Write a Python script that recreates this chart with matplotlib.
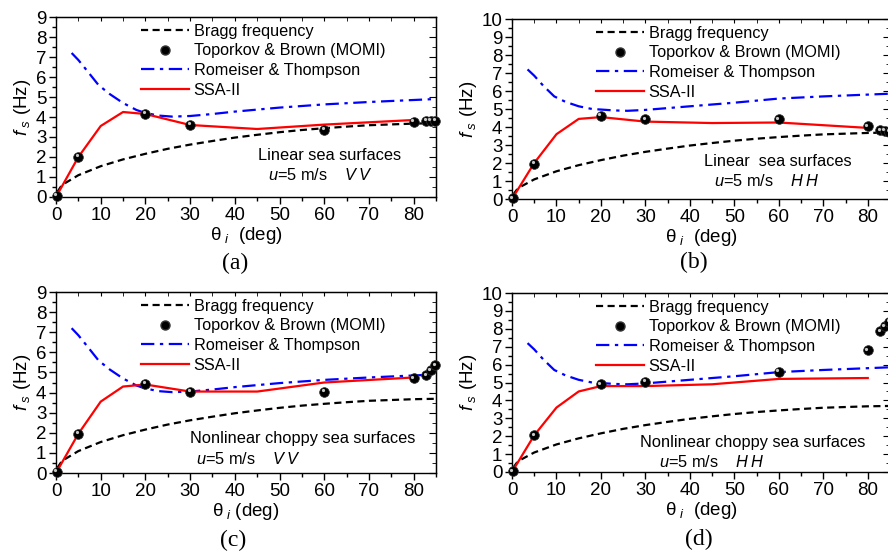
import matplotlib
matplotlib.use("Agg")
import matplotlib.pyplot as plt
from matplotlib.lines import Line2D
from matplotlib.ticker import MultipleLocator
import matplotlib.transforms as mtransforms

plt.rcParams['font.family'] = ['Liberation Sans', 'DejaVu Sans']
plt.rcParams['mathtext.fontset'] = 'custom'
plt.rcParams['mathtext.rm'] = 'Liberation Sans'
plt.rcParams['mathtext.it'] = 'Liberation Sans:italic'

# ---------------- data ----------------
bragg_theta = [0.3, 1, 2, 5, 10, 15, 20, 25, 30, 35, 40, 45, 50, 55, 60, 65, 70, 75, 80, 85]
bragg_f = [0.25, 0.49, 0.69, 1.09, 1.54, 1.88, 2.16, 2.41, 2.62, 2.80, 2.97, 3.11, 3.24, 3.35, 3.44, 3.52, 3.59, 3.63, 3.67, 3.69]

rt_theta = [3.5, 5, 7, 9.5, 12, 15, 18, 20, 23, 26, 30, 35, 40, 45, 50, 60, 70, 80, 85]
rt_vv = [7.2, 6.85, 6.3, 5.6, 5.15, 4.7, 4.35, 4.2, 4.07, 4.02, 4.05, 4.15, 4.27, 4.37, 4.47, 4.63, 4.75, 4.85, 4.9]
rt_hh = [7.2, 6.85, 6.3, 5.7, 5.4, 5.15, 5.0, 4.97, 4.92, 4.9, 4.95, 5.05, 5.15, 5.25, 5.35, 5.58, 5.7, 5.8, 5.85]

ssa_theta = [0, 5, 10, 15, 20, 30, 45, 60, 80]
ssa_a = [0.0, 2.0, 3.55, 4.25, 4.15, 3.6, 3.4, 3.62, 3.85]
ssa_b = [0.0, 2.0, 3.6, 4.45, 4.55, 4.3, 4.22, 4.25, 3.95]
ssa_c = [0.0, 1.95, 3.55, 4.3, 4.4, 4.05, 4.05, 4.5, 4.75]
ssa_d = [0.0, 2.05, 3.6, 4.5, 4.8, 4.8, 4.9, 5.2, 5.25]

momi_theta = [0.2, 5, 20, 30, 60, 80, 82.8, 83.8, 84.8]
momi_a = [0.05, 2.0, 4.15, 3.6, 3.35, 3.75, 3.82, 3.82, 3.8]
momi_b = [0.05, 1.95, 4.62, 4.42, 4.42, 4.05, 3.82, 3.78, 3.75]
momi_c = [0.05, 1.95, 4.45, 4.05, 4.05, 4.72, 4.85, 5.1, 5.35]
momi_d = [0.05, 2.05, 4.9, 5.05, 5.6, 6.8, 7.85, 8.15, 8.4]

labels = ["Bragg frequency", "Toporkov & Brown (MOMI)", "Romeiser & Thompson", "SSA-II"]

panels = [
    dict(pos=[56, 17, 436, 197], ymax=9, rt=rt_vv, ssa=ssa_a, momi=momi_a,
         t1="Linear sea surfaces", t1xy=(258, 155), t2xy=(268, 175), pol="VV",
         cap="(a)", capxy=(235, 263), xl="θ" + r"$_{\ i}$  (deg)"),
    dict(pos=[512, 19, 890, 199], ymax=10, rt=rt_hh, ssa=ssa_b, momi=momi_b,
         t1="Linear  sea surfaces", t1xy=(704, 161), t2xy=(714, 181), pol="HH",
         cap="(b)", capxy=(694, 262), xl="θ" + r"$_{\ i}$  (deg)"),
    dict(pos=[56, 292, 436, 473], ymax=9, rt=rt_vv, ssa=ssa_c, momi=momi_c,
         t1="Nonlinear choppy sea surfaces", t1xy=(190, 439), t2xy=(196, 459), pol="VV",
         cap="(c)", capxy=(233, 540), xl="θ" + r"$_{\ i}$ (deg)"),
    dict(pos=[512, 293, 890, 472], ymax=10, rt=rt_hh, ssa=ssa_d, momi=momi_d,
         t1="Nonlinear choppy sea surfaces", t1xy=(640, 442), t2xy=(659, 462), pol="HH",
         cap="(d)", capxy=(699, 539), xl="θ" + r"$_{\ i}$  (deg)"),
]

W, H = 888, 554
fig = plt.figure(figsize=(W / 100, H / 100), dpi=100)
fig.patch.set_facecolor('white')

DASH = (0, (3.2, 2.0))
DASHDOT = (0, (6, 2.5, 1.5, 2.5))


def sphere(ax, x, y):
    ax.plot(x, y, 'o', ms=7, mfc='black', mec='#333333', mew=0.5, clip_on=False, zorder=5)
    off = ax.transData + mtransforms.ScaledTranslation(-1.1 / 72, 1.1 / 72, fig.dpi_scale_trans)
    ax.plot(x, y, 'o', ms=2.3, mfc='#c8c8c8', mec='none', clip_on=False, zorder=6, transform=off)


for p in panels:
    l, t, r, b = p['pos']
    ax = fig.add_axes([l / W, 1 - b / H, (r - l) / W, (b - t) / H])
    ax.set_xlim(0, 85)
    ax.set_ylim(0, p['ymax'])
    ax.plot(bragg_theta, bragg_f, color='black', ls=DASH, lw=1.6, zorder=3)
    ax.plot(rt_theta, p['rt'], color='#0000ff', ls=DASHDOT, lw=1.6, zorder=3)
    ax.plot(ssa_theta, p['ssa'], color='#ff0000', lw=1.6, zorder=4)
    sphere(ax, momi_theta, p['momi'])

    ax.xaxis.set_major_locator(MultipleLocator(10))
    ax.xaxis.set_minor_locator(MultipleLocator(5))
    ax.yaxis.set_major_locator(MultipleLocator(1))
    ax.yaxis.set_minor_locator(MultipleLocator(0.5))
    ax.tick_params(axis='both', which='major', labelsize=13.5, length=5, width=1,
                   direction='out', top=False, right=False, pad=2)
    ax.tick_params(axis='both', which='minor', length=3, width=1, direction='out', top=False, right=False)
    sec = ax.secondary_xaxis('top')
    sec.xaxis.set_major_locator(MultipleLocator(10))
    sec.xaxis.set_minor_locator(MultipleLocator(5))
    sec.tick_params(which='both', direction='in', length=3, labeltop=False)
    sec.set_xticklabels([])
    sec2 = ax.secondary_yaxis('right')
    sec2.yaxis.set_major_locator(MultipleLocator(1))
    sec2.yaxis.set_minor_locator(MultipleLocator(0.5))
    sec2.tick_params(which='major', direction='in', length=5, labelright=False)
    sec2.tick_params(which='minor', direction='in', length=3, labelright=False)
    sec2.set_yticklabels([])
    for s in ax.spines.values():
        s.set_linewidth(1.0)

    ax.set_xlabel(p['xl'], fontsize=13.5, labelpad=1)
    ax.set_ylabel(r"$f_{\ s}$ (Hz)", fontsize=13.5, labelpad=2)

    handles = [
        Line2D([], [], color='black', ls=DASH, lw=1.6),
        Line2D([], [], ls='none', marker='o', ms=6.5, mfc='black', mec='#333333'),
        Line2D([], [], color='#0000ff', ls=DASHDOT, lw=1.6),
        Line2D([], [], color='#ff0000', lw=1.6),
    ]
    ax_w = r - l
    leg_x = (136 - l) / ax_w if l < 400 else (136 + 455 - l) / ax_w
    ax.legend(handles, labels, loc='upper left', bbox_to_anchor=(leg_x, 1.0 - 2 / (b - t)),
              frameon=False, fontsize=11.7, handlelength=2.95, handletextpad=0.3,
              labelspacing=0.28, borderpad=0.3, borderaxespad=0)

    fig.text(p['t1xy'][0] / W, 1 - p['t1xy'][1] / H, p['t1'], fontsize=11.8,
             ha='left', va='center')
    fig.text(p['t2xy'][0] / W, 1 - p['t2xy'][1] / H,
             r"$u$=5 m/s    $\mathit{" + r"\,".join(p['pol']) + "}$",
             fontsize=11.8, ha='left', va='center')
    fig.text(p['capxy'][0] / W, 1 - p['capxy'][1] / H, p['cap'], fontsize=17,
             family='Liberation Serif', ha='center', va='center')

fig.savefig("out.png", dpi=100)
